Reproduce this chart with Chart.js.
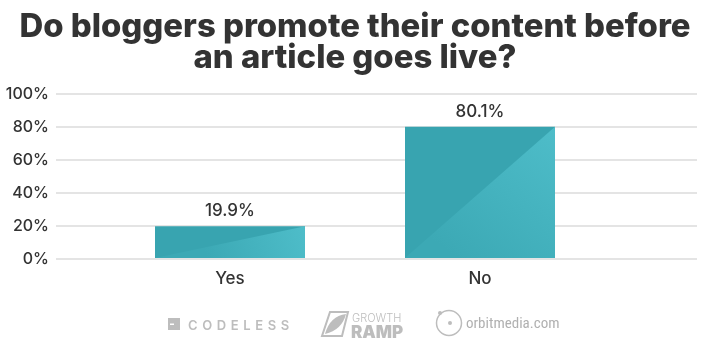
<!DOCTYPE html>
<html>
<head>
<meta charset="utf-8">
<script src="https://cdn.jsdelivr.net/npm/chart.js@4.4.1/dist/chart.umd.min.js"></script>
<style>
  html, body { margin: 0; padding: 0; background: #ffffff; }
  #wrap { width: 710px; height: 355px; position: relative; }
</style>
</head>
<body>
<div id="wrap"><canvas id="c" width="710" height="355"></canvas></div>
<script>
// ---- data ----
const titleLines = ['Do bloggers promote their content before', 'an article goes live?'];
const categories = ['Yes', 'No'];
const categoryPositions = [0, 1];
const values = [19.9, 80.1];
const yTickValues = [0, 20, 40, 60, 80, 100];
const xRange = [-0.696, 1.868];
const logos = ['CODELESS', 'GROWTH', 'RAMP', 'orbitmedia.com'];

const FONT = "'Inter', 'Open Sans', 'DejaVu Sans', sans-serif";
const TEXT = '#333333';
const DARK = '#38a4b0';
const LIGHT_TOP = '#4ebdc9';
const LIGHT_BOT = '#3ca9b5';

const decorPlugin = {
  id: 'decor',
  afterDatasetsDraw(chart) {
    const ctx = chart.ctx;
    const meta = chart.getDatasetMeta(0);
    ctx.save();
    // lighter lower-right half of each bar
    meta.data.forEach((el) => {
      const p = el.getProps(['x', 'y', 'base', 'width'], true);
      const left = p.x - p.width / 2, right = p.x + p.width / 2;
      const top = Math.min(p.y, p.base), bottom = Math.max(p.y, p.base);
      const g = ctx.createLinearGradient(right, top, left + (right - left) * 0.35, bottom);
      g.addColorStop(0, LIGHT_TOP);
      g.addColorStop(1, LIGHT_BOT);
      ctx.fillStyle = g;
      ctx.beginPath();
      ctx.moveTo(left, bottom);
      ctx.lineTo(right, top);
      ctx.lineTo(right, bottom);
      ctx.closePath();
      ctx.fill();
    });
    ctx.fillStyle = TEXT;
    ctx.font = '500 17px ' + FONT;
    ctx.textAlign = 'center';
    ctx.textBaseline = 'middle';
    meta.data.forEach((el, i) => {
      ctx.fillText(values[i].toFixed(1) + '%', el.x, el.y - 15);
    });
    ctx.restore();
  },
  afterDraw(chart) {
    const ctx = chart.ctx;
    ctx.save();
    ctx.fillStyle = TEXT;
    ctx.textAlign = 'center';
    ctx.textBaseline = 'alphabetic';
    ctx.font = '800 30px ' + FONT;
    const w1 = ctx.measureText(titleLines[0]).width;
    const size = 30 * 671 / w1;
    ctx.font = '800 ' + size.toFixed(2) + 'px ' + FONT;
    ctx.fillText(titleLines[0], 355, 37);
    ctx.fillText(titleLines[1], 355, 68);

    const G = '#bdbdbd';
    ctx.fillStyle = G;
    ctx.strokeStyle = G;
    ctx.fillRect(168, 318, 12, 12);
    ctx.fillStyle = '#ffffff';
    ctx.fillRect(170, 323.5, 4, 1.5);
    ctx.fillStyle = G;
    ctx.textAlign = 'left';
    ctx.font = '600 13px ' + FONT;
    ctx.letterSpacing = '4.6px';
    ctx.fillText(logos[0], 188, 330);
    ctx.letterSpacing = '0px';
    ctx.lineWidth = 2;
    ctx.beginPath();
    ctx.moveTo(330, 312);
    ctx.lineTo(348, 312);
    ctx.lineTo(342, 336);
    ctx.lineTo(322, 336);
    ctx.closePath();
    ctx.stroke();
    ctx.beginPath();
    ctx.moveTo(325, 334);
    ctx.quadraticCurveTo(330, 316, 346, 314);
    ctx.quadraticCurveTo(342, 330, 325, 334);
    ctx.fill();
    ctx.font = '300 11px ' + FONT;
    ctx.fillText(logos[1], 352, 322);
    ctx.font = '900 17px ' + FONT;
    ctx.fillText(logos[2], 351, 338);
    ctx.lineWidth = 1.5;
    ctx.beginPath();
    ctx.arc(449, 323, 12.5, 0, Math.PI * 2);
    ctx.stroke();
    ctx.beginPath();
    ctx.arc(450, 323, 2, 0, Math.PI * 2);
    ctx.fill();
    ctx.beginPath();
    ctx.arc(440, 313, 2, 0, Math.PI * 2);
    ctx.fill();
    ctx.fillStyle = '#b0b0b0';
    ctx.font = "15px 'Liberation Sans Narrow', 'Roboto Condensed', 'Roboto', sans-serif";
    ctx.fillText(logos[3], 466, 328);
    ctx.restore();
  }
};

new Chart(document.getElementById('c'), {
  type: 'bar',
  data: {
    datasets: [{
      data: categoryPositions.map((x, i) => ({ x: x, y: values[i] })),
      backgroundColor: DARK,
      borderWidth: 0,
      barPercentage: 0.6,
      categoryPercentage: 1.0
    }]
  },
  options: {
    responsive: false,
    animation: false,
    events: [],
    layout: { padding: { left: 0, top: 94, right: 13, bottom: 0 } },
    plugins: { legend: { display: false }, tooltip: { enabled: false }, title: { display: false } },
    scales: {
      x: {
        type: 'linear',
        offset: false,
        bounds: 'data',
        min: xRange[0],
        max: xRange[1],
        afterBuildTicks: (scale) => { scale.ticks = categoryPositions.map(v => ({ value: v })); },
        afterFit: (scale) => { scale.height = 96; },
        grid: { display: false, drawTicks: false, offset: false },
        border: { display: false },
        ticks: {
          padding: 10,
          color: TEXT,
          font: { family: FONT, size: 17, weight: '500' },
          callback: (v) => categories[categoryPositions.indexOf(v)] || ''
        }
      },
      y: {
        min: 0,
        max: 100,
        afterBuildTicks: (scale) => { scale.ticks = yTickValues.map(v => ({ value: v })); },
        afterFit: (scale) => { scale.width = 56; },
        grid: { color: '#e4e4e4', lineWidth: 2, drawTicks: false },
        border: { display: false },
        ticks: {
          padding: 7,
          color: TEXT,
          font: { family: FONT, size: 16, weight: '500' },
          callback: (v) => v + '%'
        }
      }
    }
  },
  plugins: [decorPlugin]
});
</script>
</body>
</html>
